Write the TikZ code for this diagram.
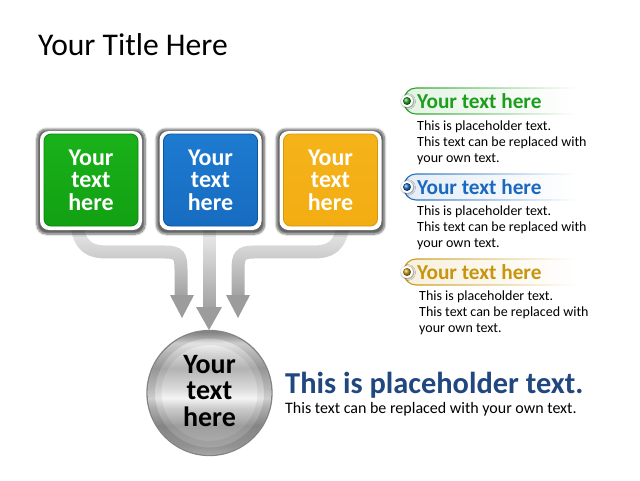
\documentclass[tikz,border=0pt]{standalone}
\usepackage{fontspec}
\setmainfont{Carlito}
\usetikzlibrary{shadows.blur,fadings}
\definecolor{gTop}{HTML}{1AB21A}
\definecolor{gMid}{HTML}{30E630}
\definecolor{gBot}{HTML}{12A012}
\definecolor{gEdge}{HTML}{0A870A}
\definecolor{bTop}{HTML}{1D7BD0}
\definecolor{bMid}{HTML}{3DACF3}
\definecolor{bBot}{HTML}{176CC0}
\definecolor{bEdge}{HTML}{0F559E}
\definecolor{yTop}{HTML}{F5B31A}
\definecolor{yMid}{HTML}{FDD650}
\definecolor{yBot}{HTML}{F2AD12}
\definecolor{yEdge}{HTML}{D39A08}
\definecolor{hGreen}{HTML}{1E9E1E}
\definecolor{hBlue}{HTML}{1A68C0}
\definecolor{hGold}{HTML}{C7950E}
\definecolor{navy}{HTML}{21477F}
\definecolor{pipe}{HTML}{9C9C9C}
\pgfdeclareverticalshading{spheresh}{100bp}{%
  color(0bp)=(black!22); color(25bp)=(black!22); color(29bp)=(black!32);
  color(37bp)=(black!38); color(44bp)=(black!20); color(48bp)=(black!4);
  color(52bp)=(black!15); color(60bp)=(black!30); color(66bp)=(black!16);
  color(70bp)=(black!5); color(73bp)=(black!30); color(75bp)=(black!42); color(100bp)=(black!42)}
\tikzfading[name=pipefade, top color=transparent!92, bottom color=transparent!0]
\tikzfading[name=tabfade, left color=transparent!0, middle color=transparent!15, right color=transparent!100]
\begin{document}
\begin{tikzpicture}[x=1pt,y=-1pt,
  frame/.style={draw=none, fill=white, rounded corners=9pt, minimum width=102pt, minimum height=99pt,
    blur shadow={shadow xshift=0pt, shadow yshift=-1pt, shadow blur steps=8, shadow scale=1.06, shadow opacity=60}},
  tile/.style={rounded corners=7pt, minimum width=94pt, minimum height=92pt, line width=0.8pt},
  tiletext/.style={align=center, text=white, font=\fontsize{24}{22.5}\selectfont\bfseries},
  pipeline/.style={line width=13pt, draw=pipe, path fading=pipefade},
  head/.style={fill=pipe},
  tab/.style={rounded corners=12pt, line width=1.1pt, path fading=tabfade},
  dotring/.style={circle, fill=white, minimum size=12pt, inner sep=0pt,
    blur shadow={shadow xshift=0.5pt, shadow yshift=-0.5pt, shadow blur steps=4, shadow opacity=50}},
  dot/.style={circle, minimum size=8pt, inner sep=0pt},
  headtext/.style={anchor=base west, inner sep=0pt, font=\fontsize{21.3}{24}\selectfont\bfseries},
  bodytext/.style={anchor=base west, inner sep=0pt, font=\fontsize{14}{16}\selectfont}
]
\useasboundingbox (0,0) rectangle (640,480);

% title
\node[anchor=base west, inner sep=0pt, font=\fontsize{31.6}{36}\selectfont] (title) at (38,55) {Your Title Here};

% pipes
\coordinate (lp0) at (76,222);
\coordinate (lp1) at (181,296);
\coordinate (cp0) at (209,225);
\coordinate (cp1) at (209,308);
\coordinate (rp0) at (344,222);
\coordinate (rp1) at (238,296);
\draw[pipeline] (lp0) .. controls (80,248) and (90,252) .. (108,252) -- (165,252) .. controls (179,252) and (181,256) .. (181,270) -- (lp1);
\draw[pipeline] (cp0) -- (cp1);
\draw[pipeline] (rp0) .. controls (340,248) and (330,252) .. (312,252) -- (254,252) .. controls (240,252) and (238,256) .. (238,270) -- (rp1);
\fill[head] (170,295) -- (194,295) -- (182,318) -- cycle;
\fill[head] (196,307) -- (222,307) -- (209,330) -- cycle;
\fill[head] (226,295) -- (250,295) -- (238,318) -- cycle;

% tiles
\node[frame] (gframe) at (91,180.5) {};
\node[frame] (bframe) at (210.5,180.5) {};
\node[frame] (yframe) at (330.5,180.5) {};
\node[tile, draw=gEdge, top color=gTop, middle color=gMid, bottom color=gBot] (gtile) at (91,180) {};
\node[tile, draw=bEdge, top color=bTop, middle color=bMid, bottom color=bBot] (btile) at (210.5,180) {};
\node[tile, draw=yEdge, top color=yTop, middle color=yMid, bottom color=yBot] (ytile) at (330.5,180) {};
\node[tiletext] (gtext) at (gtile) {Your\\text\\here};
\node[tiletext] (btext) at (btile) {Your\\text\\here};
\node[tiletext] (ytext) at (ytile) {Your\\text\\here};

% sphere
\node[circle, minimum size=125pt, inner sep=0pt, draw=black!48, line width=1.3pt, shading=spheresh] (ball) at (209.5,393) {};
\draw[black, opacity=0.10, line width=7pt] (ball.center) circle (58pt);
\draw[black, opacity=0.06, line width=14pt] (ball.center) circle (55pt);
\node[align=center, font=\fontsize{28}{26.5}\selectfont\bfseries, text=black] (balltext) at (209.5,391)
  {Your\\text\\here};

% bottom text
\node[anchor=base west, inner sep=0pt, text=navy, font=\fontsize{30.4}{34}\selectfont\bfseries] (big) at (285,393.5) {This is placeholder text.};
\node[anchor=base west, inner sep=0pt, font=\fontsize{16}{18}\selectfont] (small) at (285,413) {This text can be replaced with your own text.};

% list item 1
\draw[tab, draw=hGreen, fill=hGreen!12] (575,88) -- (404,88) -- (404,114) -- (575,114);
\node[dotring] (gring) at (407,101) {};
\node[dot, ball color=hGreen] (gdot) at (gring) {};
\node[headtext, text=hGreen] (gh) at (417,108) {Your text here};
\node[bodytext] (gb1) at (417,130) {This is placeholder text.};
\node[bodytext] (gb2) at (417,146) {This text can be replaced with};
\node[bodytext] (gb3) at (417,162) {your own text.};

% list item 2
\draw[tab, draw=hBlue, fill=hBlue!12] (575,174) -- (404,174) -- (404,200) -- (575,200);
\node[dotring] (bring) at (407,187) {};
\node[dot, ball color=hBlue] (bdot) at (bring) {};
\node[headtext, text=hBlue] (bh) at (417,194) {Your text here};
\node[bodytext] (bb1) at (417,215) {This is placeholder text.};
\node[bodytext] (bb2) at (417,231) {This text can be replaced with};
\node[bodytext] (bb3) at (417,247) {your own text.};

% list item 3
\draw[tab, draw=hGold, fill=hGold!14] (575,259) -- (404,259) -- (404,285) -- (575,285);
\node[dotring] (yring) at (407,272) {};
\node[dot, ball color=hGold] (ydot) at (yring) {};
\node[headtext, text=hGold] (yh) at (417,279) {Your text here};
\node[bodytext] (yb1) at (419,300) {This is placeholder text.};
\node[bodytext] (yb2) at (419,316) {This text can be replaced with};
\node[bodytext] (yb3) at (419,332) {your own text.};
\end{tikzpicture}
\end{document}
